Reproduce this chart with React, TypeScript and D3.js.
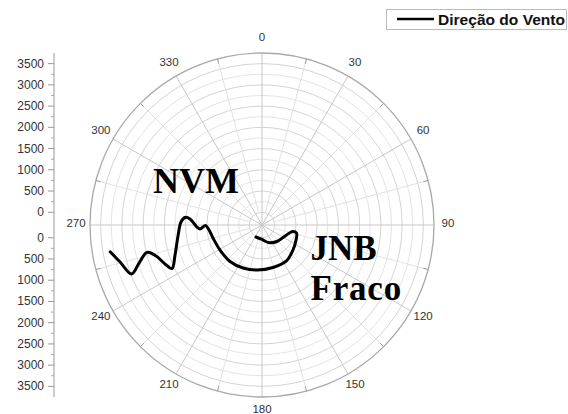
import React from "react";
import * as d3 from "d3";

// Wind direction trace: angle (degrees, clockwise from north) and radial value
const directionDeg = [260.0, 255.4, 249.4, 252.8, 256.6, 253.7, 248.1, 244.2, 251.0, 262.5, 272.1, 275.6, 274.8, 269.1, 266.3, 269.5, 264.6, 255.1, 239.2, 221.2, 203.8, 186.3, 165.5, 145.8, 128.9, 113.8, 103.1, 102.0, 112.2, 137.7, 159.6, 180.0, 206.6];
const radialValue = [3330, 3154, 2978, 2731, 2483, 2300, 2161, 2054, 1866, 1695, 1609, 1522, 1401, 1254, 1163, 1030, 953, 894, 851, 842, 807, 767, 734, 724, 637, 576, 534, 435, 324, 225, 140, 41, 16];

const angleTicks = [0, 30, 60, 90, 120, 150, 180, 210, 240, 270, 300, 330];
const radialTicks = [0, 500, 1000, 1500, 2000, 2500, 3000, 3500];
const legendLabel = "Direção do Vento";

const W = 568;
const H = 414;
const cx = 262;
const cy = 225;
const R = 172;

export default function App() {
  const r = d3.scaleLinear().domain([-300, 3750]).range([0, R]);
  const gridValues = d3.range(0, 3750, 250);
  const minorAngles = d3.range(15, 360, 30);
  const minorRadialTicks = d3.range(250, 3750, 500);
  const rad = (deg: number) => (deg * Math.PI) / 180;

  const points = directionDeg.map((a, i) => ({ a, v: radialValue[i] }));
  const line = d3
    .lineRadial<{ a: number; v: number }>()
    .angle((d) => rad(d.a))
    .radius((d) => r(d.v))
    .curve(d3.curveCatmullRom.alpha(0.5));

  const axisX = 54;
  const font = "'Liberation Sans', Arial, sans-serif";
  const serif = "'Liberation Serif', 'Times New Roman', serif";
  const labelR = 186;

  return (
    <svg width={W} height={H} style={{ position: "absolute", left: 0, top: 0, background: "#fff" }}>
      <g transform={`translate(${cx},${cy})`}>
        {gridValues.map((v) => (
          <circle key={v} r={r(v)} fill="none" stroke={v % 500 === 0 ? "#d4d4d4" : "#e4e4e4"} strokeWidth={1} />
        ))}
        {minorAngles.map((a) => (
          <line
            key={"m" + a}
            x1={r(0) * Math.sin(rad(a))}
            y1={-r(0) * Math.cos(rad(a))}
            x2={R * Math.sin(rad(a))}
            y2={-R * Math.cos(rad(a))}
            stroke="#e2e2e2"
            strokeWidth={1}
          />
        ))}
        {angleTicks.map((a) => (
          <line
            key={"s" + a}
            x1={0}
            y1={0}
            x2={R * Math.sin(rad(a))}
            y2={-R * Math.cos(rad(a))}
            stroke="#c8c8c8"
            strokeWidth={1}
          />
        ))}
        {minorAngles.map((a) => (
          <line
            key={"t" + a}
            x1={(R - 5) * Math.sin(rad(a))}
            y1={-(R - 5) * Math.cos(rad(a))}
            x2={R * Math.sin(rad(a))}
            y2={-R * Math.cos(rad(a))}
            stroke="#a0a0a0"
            strokeWidth={1}
          />
        ))}
        <circle r={R} fill="none" stroke="#a8a8a8" strokeWidth={1.3} />
        {angleTicks.map((a) => (
          <text
            key={"l" + a}
            x={labelR * Math.sin(rad(a))}
            y={-labelR * Math.cos(rad(a)) - 2}
            textAnchor="middle"
            dominantBaseline="central"
            fontFamily={font}
            fontSize={11.5}
            fill="#333"
          >
            {a}
          </text>
        ))}
        <path d={line(points) ?? ""} fill="none" stroke="#000" strokeWidth={3} strokeLinejoin="round" strokeLinecap="round" />
      </g>

      {/* mirrored radial axis */}
      <line x1={axisX} y1={cy - R} x2={axisX} y2={cy + R} stroke="#999" strokeWidth={1} />
      {[-1, 1].map((s) => (
        <g key={s}>
          {radialTicks.map((v) => (
            <g key={v}>
              <line x1={axisX - 6} x2={axisX} y1={cy + s * r(v)} y2={cy + s * r(v)} stroke="#999" />
              <text
                x={axisX - 10}
                y={cy + s * r(v)}
                textAnchor="end"
                dominantBaseline="central"
                fontFamily={font}
                fontSize={12}
                fill="#333"
              >
                {v}
              </text>
            </g>
          ))}
          {minorRadialTicks.map((v) => (
            <line key={"n" + v} x1={axisX - 3} x2={axisX} y1={cy + s * r(v)} y2={cy + s * r(v)} stroke="#aaa" />
          ))}
        </g>
      ))}

      {/* annotations */}
      <text x={153} y={192.5} fontFamily={serif} fontWeight="bold" fontSize={36} fill="#000">NVM</text>
      <text x={310.5} y={260} fontFamily={serif} fontWeight="bold" fontSize={35} fill="#000">JNB</text>
      <text x={310.5} y={300} fontFamily={serif} fontWeight="bold" fontSize={35} fill="#000" letterSpacing={0.8}>Fraco</text>

      {/* legend */}
      <rect x={386.5} y={9.5} width={180} height={20} fill="#fff" stroke="#bbb" strokeWidth={1} />
      <line x1={397} x2={434} y1={19} y2={19} stroke="#000" strokeWidth={2.5} />
      <text x={438} y={19.5} dominantBaseline="central" fontFamily={font} fontWeight="bold" fontSize={14} fill="#111" textLength={127} lengthAdjust="spacingAndGlyphs">
        {legendLabel}
      </text>
    </svg>
  );
}
